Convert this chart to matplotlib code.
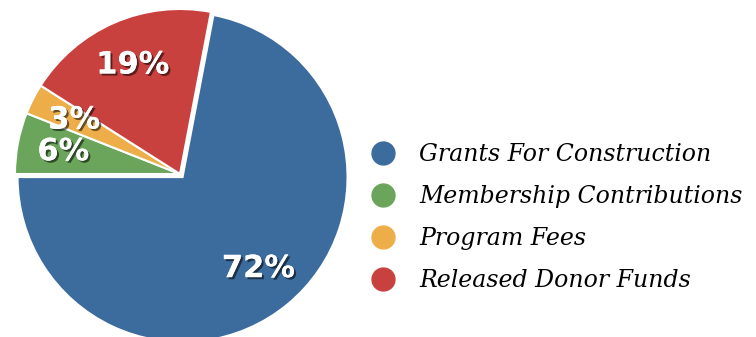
import matplotlib
matplotlib.use("Agg")
import matplotlib.pyplot as plt
import matplotlib.patheffects as pe
from matplotlib.lines import Line2D

# data
categories = ["Grants For Construction", "Membership Contributions",
              "Program Fees", "Released Donor Funds"]
shares = [72, 6, 3, 19]
colors = ["#3c6b9d", "#6aa55b", "#edae4a", "#c9413e"]
explode = [4, 0, 0, 0]  # pie() offsets in data units (here ~pixels)

fig = plt.figure(figsize=(7.56, 3.37), dpi=100)
ax = fig.add_axes([0, 0, 1, 1])

# first slice ends at the left horizontal, going clockwise
start = 180 + 360 * shares[0] / 100

wedges, texts, autotexts = ax.pie(
    shares,
    colors=colors,
    explode=explode,
    startangle=start,
    counterclock=False,
    radius=165,
    center=(180, 163),
    autopct="%d%%",
    pctdistance=0.72,
    wedgeprops=dict(edgecolor="white", linewidth=1.5),
    textprops=dict(color="white", fontsize=22, fontweight="bold",
                   family="DejaVu Sans"),
    frame=True,
)
for t in autotexts:
    t.set_path_effects([pe.withSimplePatchShadow(offset=(1.5, -1.5),
                                                 shadow_rgbFace="black",
                                                 alpha=0.55),
                        pe.Normal()])

ax.set_xlim(0, 756)
ax.set_ylim(0, 337)
ax.set_aspect("equal")
ax.axis("off")

handles = [Line2D([], [], marker="o", linestyle="none", markersize=16.5,
                  markerfacecolor=c, markeredgecolor=c) for c in colors]
leg = fig.legend(handles, categories, loc="upper left",
                 bbox_to_anchor=(371 / 756, 1 - 143 / 337),
                 frameon=False, borderpad=0, borderaxespad=0,
                 handlelength=1.0, handletextpad=1.05, labelspacing=0.81,
                 prop=dict(family="DejaVu Serif", style="italic", size=17))

fig.savefig("out.png", dpi=100)
